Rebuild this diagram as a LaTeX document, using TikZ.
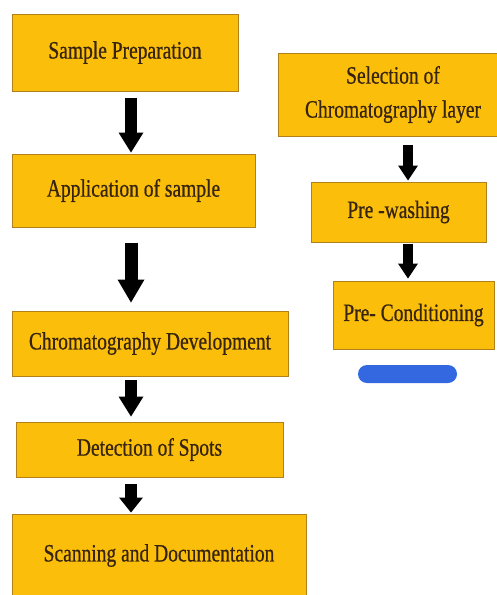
\documentclass[tikz,border=0pt]{standalone}
\usepackage{fontspec}
\setmainfont[FakeStretch=0.78, FakeBold=0.6]{Liberation Serif}
\usetikzlibrary{arrows.meta}
\definecolor{boxfill}{HTML}{FBBE0A}
\definecolor{boxline}{HTML}{B0801A}
\definecolor{boxtext}{HTML}{36240F}
\definecolor{markblue}{HTML}{3368E0}

\begin{document}
\begin{tikzpicture}[
    x = 1pt, y = -1pt,
    stepbox/.style = {draw=boxline, fill=boxfill, line width=1pt, inner sep=0pt,
        text=boxtext, font=\fontsize{25}{34}\selectfont, align=center},
    flow/.style = {line width=12.5pt, -{Triangle[width=25pt, length=20pt, line width=0pt]}},
    flowsmall/.style = {line width=10pt, -{Triangle[width=20pt, length=15pt, line width=0pt]}}]

\useasboundingbox (0,0) rectangle (496,595);

% main steps
\node[stepbox, minimum width=226pt, minimum height=77pt] (prep) at (125,52.5) {Sample Preparation};
\node[stepbox, minimum width=243pt, minimum height=73pt] (appl) at (133.5,190.5) {Application of sample};
\node[stepbox, minimum width=276pt, minimum height=65pt] (devel) at (150,343.5) {Chromatography Development};
\node[stepbox, minimum width=267pt, minimum height=55pt] (detect) at (149.5,449.5) {Detection of Spots};
\node[stepbox, minimum width=294pt, minimum height=83pt] (scan) at (159,555.5) {Scanning and Documentation};

% plate preparation
\node[stepbox, minimum width=230pt, minimum height=83pt] (layer) at (393,94.5) {Selection of\\Chromatography layer};
\node[stepbox, minimum width=175pt, minimum height=60pt] (wash) at (398.5,212) {Pre -washing};
\node[stepbox, minimum width=161pt, minimum height=68pt] (cond) at (413.5,315) {Pre- Conditioning};

\node[fill=markblue, rounded corners=9pt, minimum width=99pt, minimum height=18pt, inner sep=0pt] (mark) at (407.5,374) {};

% arrows
\coordinate (leftaxis) at (131,0);
\coordinate (rightaxis) at (408,0);

\draw[flow, shorten <=6pt, shorten >=1pt] (prep.south -| leftaxis) -- (appl.north -| leftaxis);
\draw[flow, line width=13pt, -{Triangle[width=27pt, length=23pt, line width=0pt]}, shorten <=15pt, shorten >=8pt] (appl.south -| leftaxis) -- (devel.north -| leftaxis);
\draw[flow, shorten <=3pt, shorten >=5pt] (devel.south -| leftaxis) -- (detect.north -| leftaxis);
\draw[flow, -{Triangle[width=24pt, length=15pt, line width=0pt]}, shorten <=6pt, shorten >=1pt] (detect.south -| leftaxis) -- (scan.north -| leftaxis);

\draw[flowsmall, shorten <=8pt, shorten >=1pt] (layer.south -| rightaxis) -- (wash.north -| rightaxis);
\draw[flowsmall, shorten <=1pt, shorten >=2pt] (wash.south -| rightaxis) -- (cond.north -| rightaxis);

\end{tikzpicture}
\end{document}
